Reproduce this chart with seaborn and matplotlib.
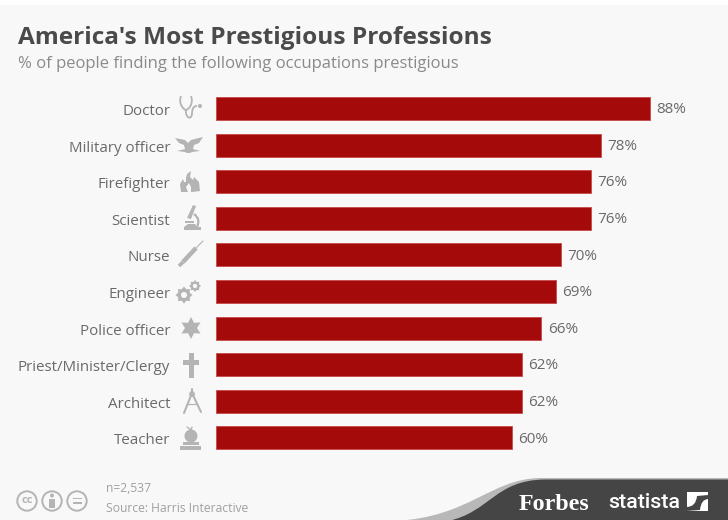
import numpy as np
import pandas as pd
import seaborn as sns
import matplotlib
matplotlib.use("Agg")
import matplotlib.pyplot as plt
from matplotlib.patches import Circle, PathPatch, Polygon, Rectangle, Ellipse
from matplotlib.path import Path
from matplotlib.transforms import ScaledTranslation

professions = ["Doctor", "Military officer", "Firefighter", "Scientist", "Nurse",
               "Engineer", "Police officer", "Priest/Minister/Clergy", "Architect", "Teacher"]
shares = [88, 78, 76, 76, 70, 69, 66, 62, 62, 60]
title = "America's Most Prestigious Professions"
subtitle = "% of people finding the following occupations prestigious"
sample_note = "n=2,537"
source_note = "Source: Harris Interactive"

W, H = 728, 520
BG = "#f8f8f8"
RED = "#a50a0a"
ICON = "#b4b4b4"
TEXT = "#6a6a6a"

sns.set_theme(style="white")
plt.rcParams["font.family"] = ["Open Sans", "DejaVu Sans"]

fig = plt.figure(figsize=(W / 100, H / 100), dpi=100, facecolor=BG)


def box(left, top, right, bottom):
    return [left / W, 1 - bottom / H, (right - left) / W, (bottom - top) / H]


# Main bar chart
ax = fig.add_axes(box(216, 90, 216 + 4.93 * 100, 457))
frame = pd.DataFrame({"profession": professions, "share": shares})
sns.barplot(data=frame, x="share", y="profession", orient="h", color=RED, saturation=1,
            width=0.63, edgecolor="#c8484a", linewidth=0.6, ax=ax)
ax.set_xlim(0, 100)
ax.set_ylim(9.52, -0.505)
ax.patch.set_alpha(0)
ax.set_xlabel("")
ax.set_ylabel("")
ax.set_xticks([])
sns.despine(ax=ax, left=True, bottom=True)
ax.tick_params(axis="y", length=0, pad=33, labelsize=10.9, labelcolor=TEXT)
nudge = ScaledTranslation(0, -1 / 100, fig.dpi_scale_trans)
for label in ax.get_yticklabels():
    label.set_transform(label.get_transform() + nudge)
for value, bar in zip(shares, ax.patches):
    ax.annotate(f"{value}%", (value, bar.get_y() + bar.get_height() / 2), xytext=(4.5, -0.8),
                textcoords="offset points", va="center", ha="left", fontsize=11, color=TEXT)

# Overlay in pixel coordinates for header, icons and footer
ov = fig.add_axes([0, 0, 1, 1], zorder=5)
ov.set_xlim(0, W)
ov.set_ylim(H, 0)
ov.axis("off")
ov.add_patch(Rectangle((0, 0), W, 5, fc="white", ec="none"))

ov.text(18, 38.5, title, fontsize=17.6, fontweight="bold", color="#4a4a4a", va="center", ha="left")
ov.text(18, 64, subtitle, fontsize=11.95, color="#8a8a8a", va="center", ha="left")


def stethoscope(cx, cy):
    ov.add_patch(PathPatch(Path([(cx - 8, cy - 12), (cx - 11, cy - 4), (cx - 5, cy + 2), (cx - 3, cy + 2),
                                 (cx - 1, cy + 2), (cx + 5, cy - 4), (cx + 2, cy - 12)],
                                [1, 4, 4, 4, 4, 4, 4]), fc="none", ec=ICON, lw=1.3))
    ov.add_patch(PathPatch(Path([(cx - 3, cy + 2), (cx - 4, cy + 9), (cx + 2, cy + 13), (cx + 3, cy + 6),
                                 (cx + 3, cy), (cx + 5, cy - 2), (cx + 8, cy - 2)],
                                [1, 4, 4, 4, 4, 4, 4]), fc="none", ec=ICON, lw=1.3))
    ov.add_patch(Circle((cx + 11, cy - 2), 2, fc=ICON, ec="none"))


def eagle(cx, cy):
    ov.add_patch(Polygon([(cx - 14, cy - 7), (cx - 4, cy - 5), (cx - 1, cy - 2), (cx + 2, cy - 5), (cx + 14, cy - 8),
                          (cx + 10, cy - 2), (cx + 5, cy), (cx + 4, cy + 4), (cx + 11, cy + 6), (cx + 3, cy + 7),
                          (cx + 1, cy + 8), (cx - 2, cy + 8), (cx - 4, cy + 7), (cx - 12, cy + 6), (cx - 4, cy + 4),
                          (cx - 5, cy), (cx - 10, cy - 2)], fc=ICON, ec="none"))


def flame(cx, cy):
    verts = [(cx - 1, cy + 10), (cx - 9, cy + 10), (cx - 10, cy + 2), (cx - 7, cy - 3), (cx - 6, cy), (cx - 4, cy),
             (cx - 4, cy - 4), (cx - 3, cy - 8), (cx + 1, cy - 11), (cx, cy - 5), (cx + 3, cy - 2), (cx + 4, cy - 5),
             (cx + 9, cy), (cx + 10, cy + 9), (cx + 2, cy + 10)]
    ov.add_patch(Polygon(verts, fc=ICON, ec="none"))
    ov.add_patch(Polygon([(cx - 2, cy + 10), (cx - 4, cy + 5), (cx - 1, cy + 1), (cx + 1, cy + 5), (cx + 1, cy + 10)],
                         fc=BG, ec="none"))


def microscope(cx, cy):
    ov.add_patch(Rectangle((cx - 8, cy + 9), 17, 2.5, fc=ICON, ec="none"))
    ov.add_patch(Polygon([(cx + 1, cy - 13), (cx + 4, cy - 12), (cx - 1, cy + 1), (cx - 5, cy)], fc=ICON, ec="none"))
    ov.add_patch(PathPatch(Path([(cx + 2, cy - 4), (cx + 9, cy + 1), (cx + 5, cy + 9)], [1, 3, 3]),
                           fc="none", ec=ICON, lw=1.6))
    ov.add_patch(Rectangle((cx - 7, cy + 3), 9, 1.8, fc=ICON, ec="none"))
    ov.add_patch(Polygon([(cx - 8, cy + 9), (cx - 4, cy + 6), (cx + 3, cy + 6), (cx + 5, cy + 9)], fc=ICON, ec="none"))


def syringe(cx, cy):
    ov.plot([cx - 11, cx - 7], [cy + 12, cy + 8], color=ICON, lw=2.6, solid_capstyle="butt")
    ov.plot([cx - 7, cx + 6], [cy + 8, cy - 6], color=ICON, lw=3.2, solid_capstyle="butt")
    ov.plot([cx + 6, cx + 13], [cy - 6, cy - 13], color=ICON, lw=0.8)


def gear(cx, cy, r):
    angles = np.linspace(0, 2 * np.pi, 16, endpoint=False)
    radii = np.where(np.arange(16) % 2 == 0, r, r * 0.72)
    ov.add_patch(Polygon(np.c_[cx + radii * np.cos(angles), cy + radii * np.sin(angles)], fc=ICON, ec="none"))
    ov.add_patch(Circle((cx, cy), r * 0.36, fc=BG, ec="none"))


def gears(cx, cy):
    gear(cx - 3, cy + 3, 8.5)
    gear(cx + 8, cy - 6, 6)


def star(cx, cy):
    angles = np.linspace(-np.pi / 2, 1.5 * np.pi, 12, endpoint=False)
    radii = np.where(np.arange(12) % 2 == 0, 11, 6)
    ov.add_patch(Polygon(np.c_[cx + radii * np.cos(angles), cy + radii * np.sin(angles)], fc=ICON, ec="none"))


def cross(cx, cy):
    ov.add_patch(Rectangle((cx - 2.5, cy - 12), 5, 25, fc=ICON, ec="none"))
    ov.add_patch(Rectangle((cx - 8, cy - 5), 16, 4.5, fc=ICON, ec="none"))


def dividers(cx, cy):
    ov.plot([cx - 8, cx], [cy + 12, cy - 8], color=ICON, lw=1.5)
    ov.plot([cx + 9, cx], [cy + 11, cy - 8], color=ICON, lw=1.5)
    ov.plot([cx, cx], [cy - 12, cy - 6], color=ICON, lw=1.5)
    ov.add_patch(Circle((cx, cy - 7), 2.2, fc=BG, ec=ICON, lw=1))
    ov.plot([cx - 5, cx + 5], [cy + 3, cy + 3], color=ICON, lw=0.9)


def apple_on_books(cx, cy):
    ov.add_patch(Ellipse((cx, cy - 2), 13, 13, fc=ICON, ec="none"))
    ov.plot([cx, cx + 1], [cy - 8, cy - 11], color=ICON, lw=1)
    ov.plot([cx - 4, cx], [cy - 11, cy - 8], color=ICON, lw=1)
    ov.add_patch(Rectangle((cx - 8, cy + 4), 16, 3.2, fc=ICON, ec="none"))
    ov.add_patch(Rectangle((cx - 11, cy + 8.2), 21, 3.4, fc=ICON, ec="none"))


icon_positions = [(189, 108), (189, 145), (190, 182), (192, 218), (190, 254),
                  (187, 292), (191, 328), (191, 365), (192, 401), (191, 438)]
icon_painters = [stethoscope, eagle, flame, microscope, syringe, gears, star, cross, dividers, apple_on_books]
for (icon_x, icon_y), painter in zip(icon_positions, icon_painters):
    painter(icon_x, icon_y)

# Licence badges
for badge_x in (27, 52, 77):
    ov.add_patch(Circle((badge_x, 501), 9.7, fc="none", ec=ICON, lw=1.4))
ov.text(27, 500.5, "cc", fontsize=8, fontweight="bold", color=ICON, ha="center", va="center")
ov.add_patch(Circle((52, 495.5), 2, fc=ICON, ec="none"))
ov.add_patch(Rectangle((49.3, 498.5), 5.4, 9, fc=ICON, ec="none"))
ov.add_patch(Rectangle((72.5, 497.5), 9, 1.8, fc=ICON, ec="none"))
ov.add_patch(Rectangle((72.5, 502), 9, 1.8, fc=ICON, ec="none"))

ov.text(106, 488, sample_note, fontsize=8.7, color="#a0a0a0", va="center", ha="left")
ov.text(106, 508, source_note, fontsize=8.7, color="#a0a0a0", va="center", ha="left")

# Footer band with its swoosh
swoosh = Path([(395, 521), (470, 517), (490, 479), (540, 478), (728, 478), (728, 521), (395, 521)],
              [1, 4, 4, 4, 2, 2, 79])
ov.add_patch(PathPatch(swoosh, fc="#b8b8b8", ec="none"))
band = Path([(448, 521), (490, 512), (495, 480), (545, 479.5), (728, 479.5), (728, 521), (448, 521)],
            [1, 4, 4, 4, 2, 2, 79])
ov.add_patch(PathPatch(band, fc="#454545", ec="none"))
ov.text(519, 504, "Forbes", family=["Liberation Serif", "DejaVu Serif"], fontweight="bold", fontsize=17.3,
        color="white", va="center", ha="left")
ov.text(608, 503, "statista", family=["Roboto", "Open Sans"], fontweight="medium", fontsize=15.4,
        color="white", va="center", ha="left")
ov.add_patch(Rectangle((687, 492), 21, 19, fc="white", ec="none"))
ov.add_patch(PathPatch(Path([(686.5, 507), (696, 507), (697, 496), (708.5, 495), (708.5, 499), (701, 499),
                             (700, 510), (686.5, 511), (686.5, 507)],
                            [1, 3, 3, 2, 2, 3, 3, 2, 79]), fc="#454545", ec="none"))

fig.savefig("out.png", dpi=100, facecolor=fig.get_facecolor())
